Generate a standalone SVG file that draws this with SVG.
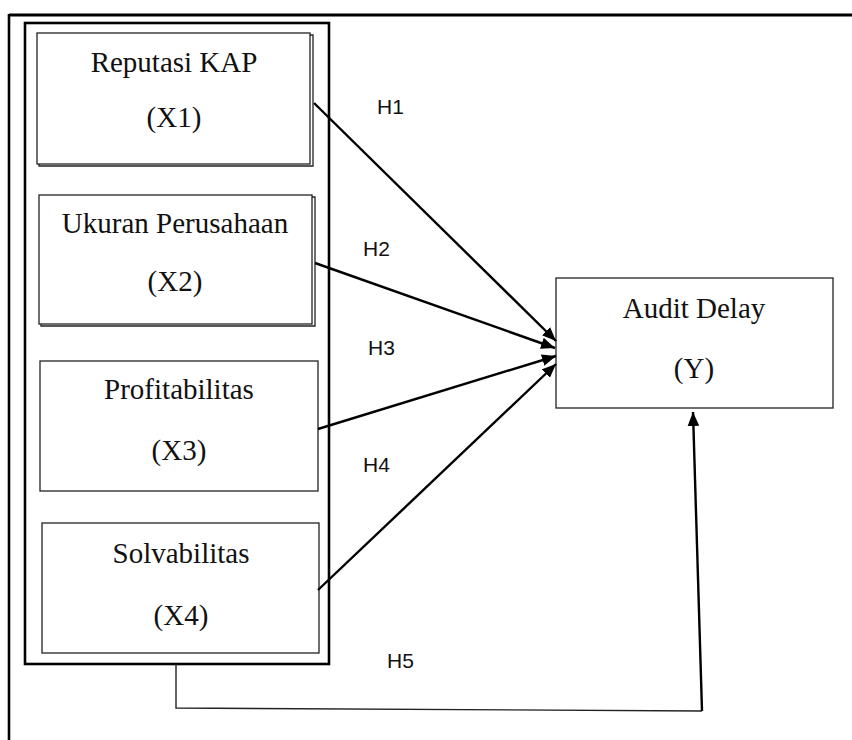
<svg xmlns="http://www.w3.org/2000/svg" width="852" height="740" viewBox="0 0 852 740">
  <style>
    .node { fill: #fff; stroke: #222; stroke-width: 1.3; }
    .shadow { fill: none; stroke: #222; stroke-width: 1.3; }
    .t { font-family: "Liberation Serif", "Times New Roman", serif; font-size: 29px; fill: #111; text-anchor: middle; }
    .h { font-family: "Liberation Sans", Arial, sans-serif; font-size: 21px; fill: #111; }
    .conn { fill: none; stroke: #000; stroke-width: 2.4; }
  </style>
  <defs>
    <marker id="arr" viewBox="0 0 12 10" refX="12" refY="5" markerWidth="14" markerHeight="12" markerUnits="userSpaceOnUse" orient="auto">
      <path d="M0,0 L12,5 L0,10 Z" fill="#000"/>
    </marker>
  </defs>
  <rect width="852" height="740" fill="#fff"/>

  <g id="frame">
    <line x1="9" y1="15" x2="852" y2="15" stroke="#000" stroke-width="3"/>
    <line x1="9" y1="14" x2="9" y2="740" stroke="#000" stroke-width="2.6"/>
  </g>

  <g id="group-x">
    <rect x="25" y="23" width="304" height="641" fill="none" stroke="#000" stroke-width="2.6"/>
  </g>

  <g id="x1">
    <polyline class="shadow" points="310,35 313,35 313,166 39,166 39,164"/>
    <rect class="node" x="37" y="33" width="273" height="131"/>
    <text class="t" x="174" y="72">Reputasi KAP</text>
    <text class="t" x="174" y="127">(X1)</text>
  </g>

  <g id="x2">
    <polyline class="shadow" points="312,197 315,197 315,326 41,326 41,324"/>
    <rect class="node" x="39" y="195" width="273" height="129"/>
    <text class="t" x="175" y="233">Ukuran Perusahaan</text>
    <text class="t" x="175" y="291">(X2)</text>
  </g>

  <g id="x3">
    <rect class="node" x="40" y="361" width="278" height="130"/>
    <text class="t" x="179" y="399">Profitabilitas</text>
    <text class="t" x="179" y="460">(X3)</text>
  </g>

  <g id="x4">
    <rect class="node" x="42" y="523" width="277" height="130"/>
    <text class="t" x="181" y="563">Solvabilitas</text>
    <text class="t" x="181" y="625">(X4)</text>
  </g>

  <g id="y">
    <rect class="node" x="556" y="278" width="277" height="130"/>
    <text class="t" x="694" y="318">Audit Delay</text>
    <text class="t" x="694" y="378">(Y)</text>
  </g>

  <g id="connectors">
    <line class="conn" x1="314" y1="103" x2="556" y2="341" marker-end="url(#arr)"/>
    <line class="conn" x1="315" y1="263" x2="555" y2="348" marker-end="url(#arr)"/>
    <line class="conn" x1="318" y1="429" x2="556" y2="356" marker-end="url(#arr)"/>
    <line class="conn" x1="318" y1="590" x2="556" y2="364" marker-end="url(#arr)"/>
    <polyline fill="none" stroke="#222" stroke-width="1.4" points="176,664 176,708 702,711"/>
    <line class="conn" x1="702" y1="711" x2="693" y2="412" marker-end="url(#arr)"/>
  </g>

  <g id="labels">
    <text class="h" x="377" y="114">H1</text>
    <text class="h" x="363" y="256">H2</text>
    <text class="h" x="368" y="355">H3</text>
    <text class="h" x="363" y="472">H4</text>
    <text class="h" x="387" y="668">H5</text>
  </g>
</svg>
